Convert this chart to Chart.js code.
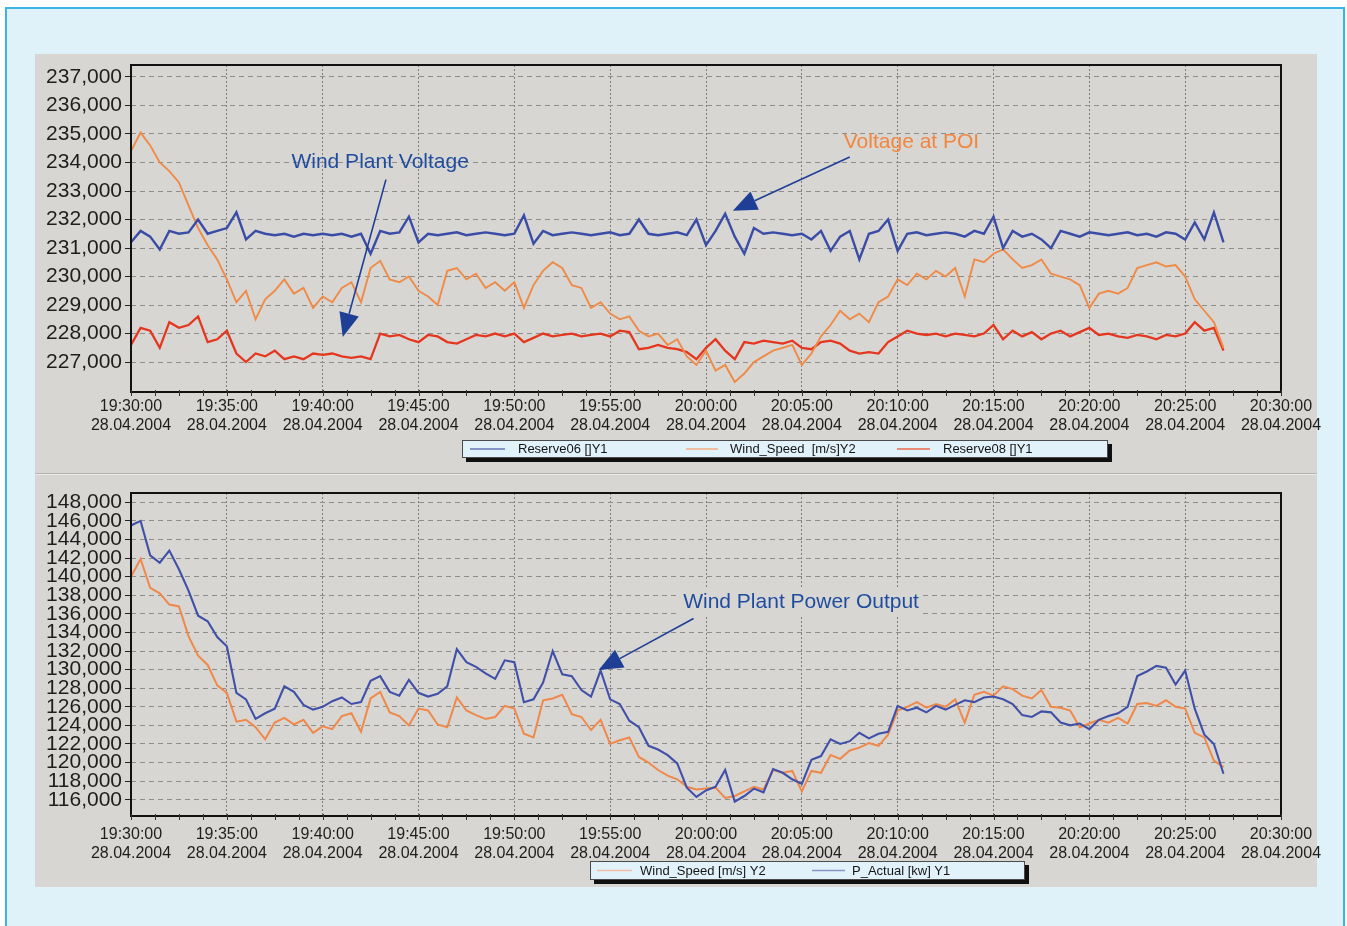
<!DOCTYPE html>
<html>
<head>
<meta charset="utf-8">
<title>Wind plant voltage and power, 28.04.2004</title>
<script src="https://cdn.jsdelivr.net/npm/chart.js@4.4.1/dist/chart.umd.min.js"></script>
<style>
  html, body { margin: 0; padding: 0; background: #ffffff; }
  body { width: 1347px; height: 926px; position: relative; overflow: hidden; }
  #frame { position: absolute; left: 5px; top: 7px; width: 1340px; height: 940px;
           border: 2px solid #3ab4e8; background: #dff2fa; box-sizing: border-box; }
  #panel { position: absolute; left: 35px; top: 54px; width: 1282px; height: 833px; background: #d7d6d2; }
  #divider { position: absolute; left: 35px; top: 473px; width: 1282px; height: 1px;
             background: #b3b3ae; border-bottom: 1px solid #ebebe8; }
  .chartbox { position: absolute; left: 35px; }
  #topBox { top: 54px; }
  #botBox { top: 475px; }
  canvas { display: block; }
</style>
</head>
<body>
<div id="frame"></div>
<div id="panel"></div>
<div id="divider"></div>
<div id="topBox" class="chartbox"><canvas id="voltageChart" width="1300" height="420"></canvas></div>
<div id="botBox" class="chartbox"><canvas id="powerChart" width="1300" height="412"></canvas></div>

<script>
// Samples are logged every half minute, starting 19:30:00.
const SAMPLE_STEP_MIN = 0.5;

// Upper panel: Reserve06 (wind plant voltage side), Y1
const reserve06 = [
  231200, 231600, 231400, 230950, 231600, 231500, 231550, 232000, 231500, 231600,
  231700, 232250, 231300, 231600, 231500, 231450, 231500, 231400, 231500, 231450,
  231500, 231450, 231500, 231400, 231500, 230800, 231600, 231500, 231550, 232100,
  231200, 231500, 231450, 231500, 231550, 231450, 231500, 231550, 231500, 231450,
  231500, 232150, 231150, 231600, 231450, 231500, 231550, 231500, 231450, 231500,
  231550, 231450, 231500, 232000, 231500, 231450, 231500, 231550, 231450, 232000,
  231100, 231600, 232200, 231400, 230800, 231700, 231500, 231550, 231500, 231450,
  231500, 231300, 231600, 230900, 231400, 231600, 230600, 231500, 231600, 232000,
  230900, 231500, 231550, 231450, 231500, 231550, 231500, 231400, 231600, 231500,
  232100, 231000, 231600, 231400, 231500, 231300, 231000, 231600, 231500, 231400,
  231550, 231500, 231450, 231500, 231550, 231450, 231500, 231400, 231550, 231500,
  231300, 231900, 231300, 232250, 231200
];

// Upper panel: Wind_Speed trace, plotted against the Y1 scale
const windSpeedUpper = [
  234400, 235050, 234600, 234000, 233700, 233300, 232500, 231700, 231100, 230600,
  229900, 229100, 229500, 228500, 229200, 229500, 229900, 229400, 229600, 228900,
  229300, 229100, 229600, 229800, 229100, 230300, 230550, 229900, 229800, 230000,
  229500, 229300, 229000, 230200, 230300, 229900, 230100, 229600, 229800, 229500,
  229800, 228900, 229700, 230200, 230500, 230300, 229700, 229600, 228900, 229100,
  228700, 228500, 228600, 228100, 227900, 228000, 227600, 227800, 227200, 226900,
  227400, 226700, 226900, 226300, 226600, 227000, 227200, 227400, 227500, 227600,
  226900, 227300, 227900, 228300, 228800, 228500, 228700, 228400, 229100, 229300,
  229900, 229700, 230100, 229900, 230200, 230000, 230300, 229300, 230600, 230500,
  230800, 230950, 230600, 230300, 230400, 230600, 230100, 230000, 229900, 229700,
  228900, 229400, 229500, 229400, 229600, 230300, 230400, 230500, 230350, 230400,
  230000, 229200, 228800, 228400, 227500
];

// Upper panel: Reserve08, Y1
const reserve08 = [
  227600, 228200, 228100, 227500, 228400, 228200, 228300, 228600, 227700, 227800,
  228100, 227300, 227000, 227300, 227200, 227400, 227100, 227200, 227100, 227300,
  227250, 227300, 227200, 227150, 227200, 227100, 228000, 227900, 227950, 227800,
  227700, 227950, 227900, 227700, 227650, 227800, 227950, 227900, 228000, 227900,
  228000, 227700, 227850, 228000, 227900, 227950, 228000, 227900, 227950, 228000,
  227900, 228100, 228050, 227450, 227500, 227600, 227500, 227450, 227350, 227100,
  227500, 227800, 227400, 227100, 227700, 227650, 227750, 227700, 227650, 227750,
  227500, 227450, 227700, 227750, 227650, 227400, 227300, 227350, 227300, 227700,
  227900, 228100, 228000, 227950, 228000, 227900, 228000, 227950, 227900, 228000,
  228300, 227800, 228100, 227900, 228050, 227800, 228000, 228100, 227900, 228050,
  228200, 227950, 228000, 227900, 227850, 227950, 227900, 227800, 227950, 227900,
  228000, 228400, 228100, 228200, 227400
];

// Lower panel: P_Actual [kw], Y1
const pActual = [
  145500, 146000, 142300, 141500, 142800, 140800, 138500, 135800, 135200, 133500,
  132500, 127500, 126800, 124700, 125300, 125800, 128200, 127600, 126200, 125700,
  126000, 126600, 127000, 126300, 126500, 128800, 129300, 127600, 127200, 128900,
  127500, 127100, 127400, 128200, 132200, 130800, 130300, 129600, 129000, 131000,
  130800, 126500, 126800, 128600, 132000, 129500, 129300, 127800, 127100, 129900,
  126800, 126300, 124500, 123800, 121800, 121400, 120800, 119900, 117300, 116300,
  117000, 117400, 119200, 115800, 116400, 117200, 116800, 119300, 118900, 118200,
  117700, 120300, 120700, 122500, 122000, 122300, 123200, 122600, 123100, 123300,
  126100, 125600, 125900, 125400, 126100, 125700, 126200, 126700, 126500, 127000,
  127100, 126800, 126300, 125100, 124900, 125500, 125400, 124300, 124000, 124200,
  123600, 124600, 125000, 125300, 126000, 129300, 129800, 130400, 130200, 128400,
  129900, 125800, 123000, 122000, 118800
];

// Lower panel: Wind_Speed trace, plotted against the Y1 scale
const windSpeedLower = [
  140000, 141900, 138800, 138200, 137000, 136800, 133600, 131500, 130500, 128300,
  127500, 124400, 124600, 123800, 122500, 124300, 124800, 124100, 124600, 123200,
  123900, 123600, 125000, 125300, 123300, 126900, 127600, 125400, 125000, 124000,
  125800, 125600, 124100, 123800, 127000, 125600, 125100, 124700, 124900, 126100,
  125800, 123100, 122700, 126700, 126900, 127300, 125200, 124900, 123500, 124600,
  122000, 122400, 122700, 120600, 120000, 119200, 118600, 118200, 117400, 117100,
  117200, 117300, 116200, 116400, 116900, 117400, 117100, 119200, 118900, 119100,
  116900, 119100, 118900, 120800, 120400, 121300, 121600, 122100, 121800, 123000,
  125600, 126000, 126500, 125900, 126300, 126000, 126800, 124300, 127300, 127600,
  127200, 128200, 127900, 127200, 126900, 127800, 126000, 125900, 125600, 123800,
  124200, 124600, 124300, 124800, 124200, 126300, 126400, 126100, 126700, 126000,
  125800, 123200, 122700, 120200, 119500
];

// Time axis (minutes after 19:30:00) and its two-line labels
const timeTickMinutes = [0, 5, 10, 15, 20, 25, 30, 35, 40, 45, 50, 55, 60];
const timeTickLabels = ['19:30:00', '19:35:00', '19:40:00', '19:45:00', '19:50:00', '19:55:00',
  '20:00:00', '20:05:00', '20:10:00', '20:15:00', '20:20:00', '20:25:00', '20:30:00'];
const dateLabel = '28.04.2004';

const voltageTicks = [227000, 228000, 229000, 230000, 231000, 232000, 233000, 234000, 235000, 236000, 237000];
const powerTicks = [116000, 118000, 120000, 122000, 124000, 126000, 128000, 130000, 132000,
  134000, 136000, 138000, 140000, 142000, 144000, 146000, 148000];

// Callout notes, placed in axis units: [minutes, value]
const voltageNotes = [
  { text: 'Wind Plant Voltage', color: '#1f4c9f', at: [13.0, 234000], from: [13.3, 233400], to: [11.05, 227880] },
  { text: 'Voltage at POI', color: '#f2863f', at: [40.72, 234700], from: [37.5, 234190], to: [31.4, 232310] }
];
const powerNotes = [
  { text: 'Wind Plant Power Output', color: '#1f4c9f', at: [34.96, 137200], from: [29.35, 135500], to: [24.4, 129950], boxed: true }
];

const FONT = '"Liberation Sans", Arial, Helvetica, sans-serif';
const PANEL_GRAY = '#d7d6d2';
const ARROW_BLUE = '#1f3f97';
Chart.defaults.font.family = FONT;

function toPoints(values) {
  return values.map((v, i) => ({ x: i * SAMPLE_STEP_MIN, y: v }));
}

function drawNote(ctx, xs, ys, n) {
  const tx = xs.getPixelForValue(n.at[0]);
  const ty = ys.getPixelForValue(n.at[1]);
  ctx.font = '21px ' + FONT;
  ctx.textAlign = 'center';
  ctx.textBaseline = 'middle';
  if (n.boxed) {
    const w = ctx.measureText(n.text).width;
    ctx.fillStyle = PANEL_GRAY;
    ctx.fillRect(tx - w / 2 - 4, ty - 14, w + 8, 28);
  }
  ctx.fillStyle = n.color;
  ctx.fillText(n.text, tx, ty);

  const x0 = xs.getPixelForValue(n.from[0]), y0 = ys.getPixelForValue(n.from[1]);
  const x1 = xs.getPixelForValue(n.to[0]), y1 = ys.getPixelForValue(n.to[1]);
  const ang = Math.atan2(y1 - y0, x1 - x0);
  const L = 24, W = 10;
  const bx = x1 - L * Math.cos(ang), by = y1 - L * Math.sin(ang);
  ctx.strokeStyle = ARROW_BLUE;
  ctx.lineWidth = 1.6;
  ctx.beginPath();
  ctx.moveTo(x0, y0);
  ctx.lineTo(bx, by);
  ctx.stroke();
  ctx.fillStyle = ARROW_BLUE;
  ctx.beginPath();
  ctx.moveTo(x1, y1);
  ctx.lineTo(bx + W * Math.sin(ang), by - W * Math.cos(ang));
  ctx.lineTo(bx - W * Math.sin(ang), by + W * Math.cos(ang));
  ctx.closePath();
  ctx.fill();
}

function drawLegend(ctx, chart, box, items) {
  ctx.fillStyle = '#101010';
  ctx.fillRect(box.x + 4, box.y + 4, box.w, box.h);
  ctx.fillStyle = '#e2f2fb';
  ctx.fillRect(box.x, box.y, box.w, box.h);
  ctx.strokeStyle = '#4a4a4a';
  ctx.lineWidth = 1;
  ctx.strokeRect(box.x + 0.5, box.y + 0.5, box.w - 1, box.h - 1);
  const cy = box.y + box.h / 2;
  ctx.font = '13px ' + FONT;
  ctx.textAlign = 'left';
  ctx.textBaseline = 'middle';
  items.forEach(it => {
    const ds = chart.data.datasets[it.dataset];
    ctx.strokeStyle = it.sample;
    ctx.lineWidth = 1.5;
    ctx.beginPath();
    ctx.moveTo(box.x + it.lineFrom, cy);
    ctx.lineTo(box.x + it.lineTo, cy);
    ctx.stroke();
    ctx.fillStyle = '#151515';
    ctx.fillText(ds.label, box.x + it.textAt, cy + 0.5);
  });
}

function decorations(cfg) {
  return {
    id: 'panelDecorations',
    afterDatasetsDraw(chart) {
      const { ctx, chartArea: a, scales } = chart;
      const xs = scales.x, ys = scales.y;
      ctx.save();
      // plot frame
      ctx.strokeStyle = '#111111';
      ctx.lineWidth = 2;
      ctx.strokeRect(a.left, a.top, a.right - a.left, a.bottom - a.top);
      // minor ticks along the time axis
      ctx.lineWidth = 1;
      ctx.strokeStyle = '#333333';
      for (let m = 0; m <= 60; m += 1.25) {
        const px = Math.round(xs.getPixelForValue(m)) + 0.5;
        ctx.beginPath();
        ctx.moveTo(px, a.bottom - 2);
        ctx.lineTo(px, a.bottom + 4);
        ctx.stroke();
      }
      cfg.notes.forEach(n => drawNote(ctx, xs, ys, n));
      drawLegend(ctx, chart, cfg.legendBox, cfg.legendItems);
      ctx.restore();
    }
  };
}

function timeScale(height, pad) {
  return {
    type: 'linear', min: 0, max: 60,
    afterBuildTicks: s => { s.ticks = timeTickMinutes.map(v => ({ value: v })); },
    ticks: {
      autoSkip: false, maxRotation: 0, minRotation: 0, padding: pad, color: '#1e1e1e',
      font: { size: 16, lineHeight: 1.2 },
      callback: (v, i) => [timeTickLabels[i], dateLabel]
    },
    grid: { color: '#7e7e7a', lineWidth: 1, drawTicks: false },
    border: { display: false, dash: [2, 2] },
    afterFit: s => { s.height = height; s.paddingLeft = 0; s.paddingRight = 0; }
  };
}

function valueScale(min, max, tickValues) {
  return {
    min: min, max: max,
    afterBuildTicks: s => { s.ticks = tickValues.map(v => ({ value: v })); },
    ticks: {
      autoSkip: false, padding: 3, color: '#1e1e1e', font: { size: 21, lineHeight: 1 },
      callback: v => Number(v).toLocaleString('en-US')
    },
    grid: { color: '#8e8e8a', lineWidth: 1, drawTicks: true, tickLength: 6, tickColor: '#222222', tickBorderDash: [] },
    border: { display: false, dash: [5, 4] },
    afterFit: s => { s.width = 96; s.paddingTop = 0; s.paddingBottom = 0; }
  };
}

function lineSet(label, values, color, width) {
  return {
    label: label, data: toPoints(values), borderColor: color, backgroundColor: color,
    borderWidth: width, pointRadius: 0, tension: 0, fill: false, borderJoinStyle: 'miter'
  };
}

const common = {
  responsive: false,
  animation: false,
  events: [],
  plugins: { legend: { display: false }, tooltip: { enabled: false } }
};

new Chart(document.getElementById('voltageChart'), {
  type: 'line',
  data: {
    datasets: [
      lineSet('Reserve06 []Y1', reserve06, '#3a4ca6', 2.4),
      lineSet('Wind_Speed  [m/s]Y2', windSpeedUpper, '#f08a47', 1.9),
      lineSet('Reserve08 []Y1', reserve08, '#e5371f', 2.3)
    ]
  },
  options: Object.assign({}, common, {
    layout: { padding: { top: 11, left: 0, right: 54, bottom: 20 } },
    scales: { x: timeScale(62, 5), y: valueScale(225950, 237420, voltageTicks) }
  }),
  plugins: [decorations({
    notes: voltageNotes,
    legendBox: { x: 427, y: 386, w: 646, h: 18 },
    legendItems: [
      { dataset: 0, sample: '#6674b6', lineFrom: 8, lineTo: 43, textAt: 56 },
      { dataset: 1, sample: '#f3ac80', lineFrom: 224, lineTo: 256, textAt: 268 },
      { dataset: 2, sample: '#e8694c', lineFrom: 435, lineTo: 468, textAt: 481 }
    ]
  })]
});

new Chart(document.getElementById('powerChart'), {
  type: 'line',
  data: {
    datasets: [
      lineSet('P_Actual [kw] Y1', pActual, '#4050a8', 2.1),
      lineSet('Wind_Speed [m/s] Y2', windSpeedLower, '#f0884a', 2.0)
    ]
  },
  options: Object.assign({}, common, {
    layout: { padding: { top: 18, left: 0, right: 54, bottom: 11 } },
    scales: { x: timeScale(60, 9), y: valueScale(114250, 149000, powerTicks) }
  }),
  plugins: [decorations({
    notes: powerNotes,
    legendBox: { x: 555, y: 386, w: 435, h: 19 },
    legendItems: [
      { dataset: 1, sample: '#f1bda5', lineFrom: 7, lineTo: 42, textAt: 50 },
      { dataset: 0, sample: '#8d93c4', lineFrom: 222, lineTo: 255, textAt: 262 }
    ]
  })]
});
</script>
</body>
</html>
